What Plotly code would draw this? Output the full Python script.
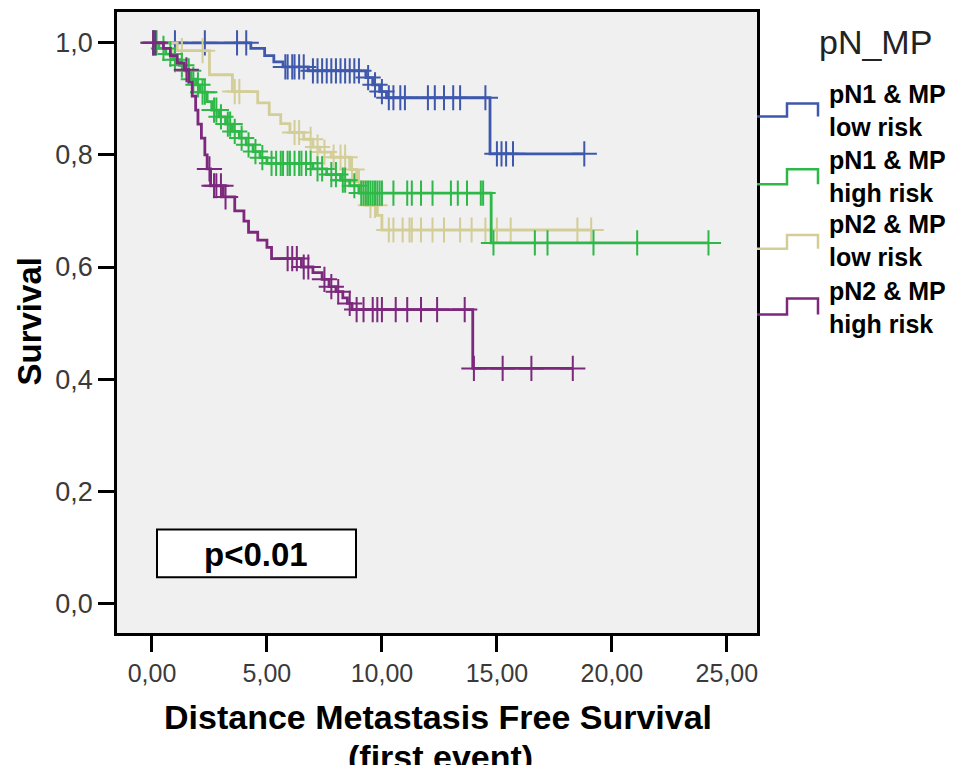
import plotly.graph_objects as go

# Kaplan-Meier estimates: event times (years) and survival right after each event
blue_event_t = [4.3, 4.9, 5.3, 5.7, 6.8, 9.3, 9.6, 9.9, 10.2, 14.7]
blue_event_s = [0.990, 0.977, 0.966, 0.957, 0.950, 0.938, 0.925, 0.913, 0.902, 0.802]
blue_cens_t = [0.1, 1.0, 2.3, 3.7, 4.1, 5.8, 5.9, 6.1, 6.2, 6.4, 6.6, 7.0, 7.2, 7.4, 7.6,
               7.8, 8.0, 8.2, 8.4, 8.6, 8.8, 9.0, 9.4, 9.7, 10.0, 10.3, 10.5, 10.8, 11.0,
               12.0, 12.3, 12.7, 13.1, 13.4, 14.5, 15.0, 15.2, 15.4, 15.7, 18.8]

green_event_t = [0.3, 0.6, 0.9, 1.2, 1.45, 1.7, 1.9, 2.1, 2.4, 2.6, 2.9, 3.2, 3.5, 3.8,
                 4.1, 4.4, 4.7, 5.0, 7.0, 7.6, 8.2, 8.6, 9.0, 14.75]
green_event_s = [0.990, 0.980, 0.970, 0.960, 0.950, 0.935, 0.925, 0.912, 0.895, 0.880,
                 0.868, 0.855, 0.842, 0.830, 0.818, 0.806, 0.795, 0.785, 0.775, 0.765,
                 0.755, 0.745, 0.732, 0.643]
green_cens_t = [0.05, 0.2, 0.5, 0.8, 1.0, 1.3, 1.6, 1.8, 2.0, 2.2, 2.3, 2.7, 2.8, 3.0,
                3.3, 3.4, 3.6, 3.9, 4.2, 4.5, 4.8, 5.2, 5.4, 5.6, 5.7, 5.9, 6.0, 6.2,
                6.4, 6.5, 6.7, 6.9, 7.2, 7.4, 7.8, 8.0, 8.3, 8.4, 8.8, 9.1, 9.2, 9.3,
                9.4, 9.5, 9.6, 9.7, 9.8, 9.9, 10.0, 10.5, 11.1, 11.3, 11.7, 12.2, 13.0,
                13.3, 13.7, 14.3, 14.4, 14.85, 16.65, 17.2, 19.2, 21.1, 24.2]

tan_event_t = [1.1, 2.5, 3.5, 4.6, 5.1, 5.6, 6.0, 6.6, 7.0, 7.3, 7.8, 8.6, 8.9, 9.1,
               9.3, 9.8, 10.0]
tan_event_s = [0.986, 0.943, 0.913, 0.893, 0.872, 0.856, 0.840, 0.828, 0.814, 0.805,
               0.796, 0.774, 0.752, 0.733, 0.710, 0.692, 0.666]
tan_cens_t = [1.3, 2.2, 3.6, 3.8, 6.2, 6.4, 6.9, 7.2, 7.5, 7.9, 8.2, 8.4, 8.7, 9.0,
              9.5, 9.7, 10.3, 10.5, 10.9, 11.2, 11.3, 11.7, 12.2, 12.7, 13.4, 13.9,
              14.5, 15.0, 15.6, 18.5, 19.1]

purple_event_t = [0.5, 0.8, 1.1, 1.4, 1.6, 1.75, 1.9, 2.0, 2.15, 2.3, 2.4, 2.55, 3.1,
                  3.6, 4.0, 4.2, 4.6, 5.0, 5.2, 6.5, 7.0, 7.4, 7.7, 8.0, 8.3, 8.5,
                  8.7, 13.95]
purple_event_s = [0.990, 0.977, 0.964, 0.952, 0.930, 0.905, 0.880, 0.855, 0.830, 0.800,
                  0.775, 0.745, 0.725, 0.700, 0.682, 0.662, 0.648, 0.635, 0.615, 0.600,
                  0.590, 0.578, 0.565, 0.556, 0.545, 0.535, 0.524, 0.419]
purple_cens_t = [0.05, 0.15, 1.5, 2.5, 2.7, 2.8, 3.0, 3.2, 5.9, 6.1, 6.3, 6.6, 6.8,
                 7.5, 7.8, 8.1, 8.6, 8.9, 9.2, 9.6, 9.8, 10.0, 10.6, 11.1, 11.7, 12.4,
                 13.6, 14.0, 15.25, 16.5, 18.3]

group_names = ["pN1 & MP low risk", "pN1 & MP high risk",
               "pN2 & MP low risk", "pN2 & MP high risk"]
group_colors = ["#3E58AC", "#2EB848", "#D3CE97", "#7C287D"]

x_ticks = [0, 5, 10, 15, 20, 25]
x_ticktext = ["0,00", "5,00", "10,00", "15,00", "20,00", "25,00"]
y_ticks = [0.0, 0.2, 0.4, 0.6, 0.8, 1.0]
y_ticktext = ["0,0", "0,2", "0,4", "0,6", "0,8", "1,0"]

groups = [
    (blue_event_t, blue_event_s, blue_cens_t),
    (green_event_t, green_event_s, green_cens_t),
    (tan_event_t, tan_event_s, tan_cens_t),
    (purple_event_t, purple_event_s, purple_cens_t),
]
draw_order = [0, 2, 1, 3]


def surv_at(t, ev_t, ev_s):
    s = 1.0
    for et, es in zip(ev_t, ev_s):
        if et <= t:
            s = es
    return s


fig = go.Figure()
for gi in draw_order:
    ev_t, ev_s, c_t = groups[gi]
    color = group_colors[gi]
    t_end = max(max(c_t), max(ev_t))
    xs = [0.0] + list(ev_t) + [t_end]
    ys = [1.0] + list(ev_s) + [ev_s[-1]]
    fig.add_trace(go.Scatter(x=xs, y=ys, mode="lines", line=dict(color=color, width=2.8, shape="hv"),
                             name=group_names[gi], showlegend=False, hoverinfo="skip"))
    fig.add_trace(go.Scatter(x=c_t, y=[surv_at(t, ev_t, ev_s) for t in c_t], mode="markers",
                             marker=dict(symbol="cross-thin", size=18, line=dict(color=color, width=2)),
                             name=group_names[gi] + " censored", showlegend=False, hoverinfo="skip"))

W, H = 962, 765
L, R, T, B = 117, 205, 9, 132
PW, PH = W - L - R, H - T - B


def px(x):
    return (x - L) / PW


def py(y):
    return (H - B - y) / PH


arial = "Liberation Sans, Arial, sans-serif"

shapes = []
annotations = []

# p-value box
shapes.append(dict(type="rect", xref="paper", yref="paper", x0=px(157), x1=px(356), y0=py(577), y1=py(529),
                   fillcolor="white", line=dict(color="black", width=2)))
annotations.append(dict(xref="paper", yref="paper", x=px(256), y=py(554), text="<b>p<0.01</b>", showarrow=False,
                        font=dict(family=arial, size=33, color="black"), xanchor="center", yanchor="middle"))

# legend: step icons and labels
annotations.append(dict(xref="paper", yref="paper", x=px(875), y=py(39), text="pN_MP", showarrow=False,
                        font=dict(family=arial, size=34, color="#222222"), xanchor="center", yanchor="middle"))
icon_base = [114, 182, 247, 313]
icon_top = [101, 167, 233, 297]
label_text = ["pN1 & MP<br>low risk", "pN1 & MP<br>high risk",
              "pN2 & MP<br>low risk", "pN2 & MP<br>high risk"]
label_center = [108, 174, 239, 306]
for i in range(4):
    yb, yt = icon_base[i], icon_top[i]
    path = "M {0},{1} L {2},{1} L {2},{3} L {4},{3} L {4},{1}".format(
        px(757), py(yb), px(787), py(yt), px(818))
    shapes.append(dict(type="path", xref="paper", yref="paper", path=path,
                       line=dict(color=group_colors[i], width=2.5)))
    annotations.append(dict(xref="paper", yref="paper", x=px(827), y=py(label_center[i]),
                            text="<b>%s</b>" % label_text[i], align="left",
                            showarrow=False, font=dict(family=arial, size=25, color="black"),
                            xanchor="left", yanchor="middle"))

# axis titles
annotations.append(dict(xref="paper", yref="paper", x=px(30), y=py(320), text="<b>Survival</b>", textangle=-90,
                        showarrow=False, font=dict(family=arial, size=33, color="black"),
                        xanchor="center", yanchor="middle"))
annotations.append(dict(xref="paper", yref="paper", x=px(438), y=py(717),
                        text="<b>Distance Metastasis Free Survival</b>", showarrow=False,
                        font=dict(family=arial, size=34, color="black"), xanchor="center", yanchor="middle"))
annotations.append(dict(xref="paper", yref="paper", x=px(440), y=py(758), text="<b>(first event)</b>",
                        showarrow=False, font=dict(family=arial, size=34, color="black"),
                        xanchor="center", yanchor="middle"))

fig.update_layout(
    width=W, height=H,
    margin=dict(l=L, r=R, t=T, b=B, pad=0),
    paper_bgcolor="white",
    plot_bgcolor="#F0F0F0",
    showlegend=False,
    shapes=shapes,
    annotations=annotations,
    xaxis=dict(range=[-1.52, 26.31], tickvals=x_ticks, ticktext=x_ticktext, showgrid=False, zeroline=False,
               showline=True, mirror=True, linecolor="black", linewidth=2.5,
               ticks="outside", ticklen=16, tickwidth=3, tickcolor="black",
               tickfont=dict(family=arial, size=25, color="#3a3a3a")),
    yaxis=dict(range=[-0.053, 1.055], tickvals=y_ticks, ticktext=y_ticktext, showgrid=False, zeroline=False,
               showline=True, mirror=True, linecolor="black", linewidth=2.5,
               ticks="outside", ticklen=16, tickwidth=3, tickcolor="black",
               tickfont=dict(family=arial, size=27, color="#3a3a3a")),
)

fig.write_html("out.html")
